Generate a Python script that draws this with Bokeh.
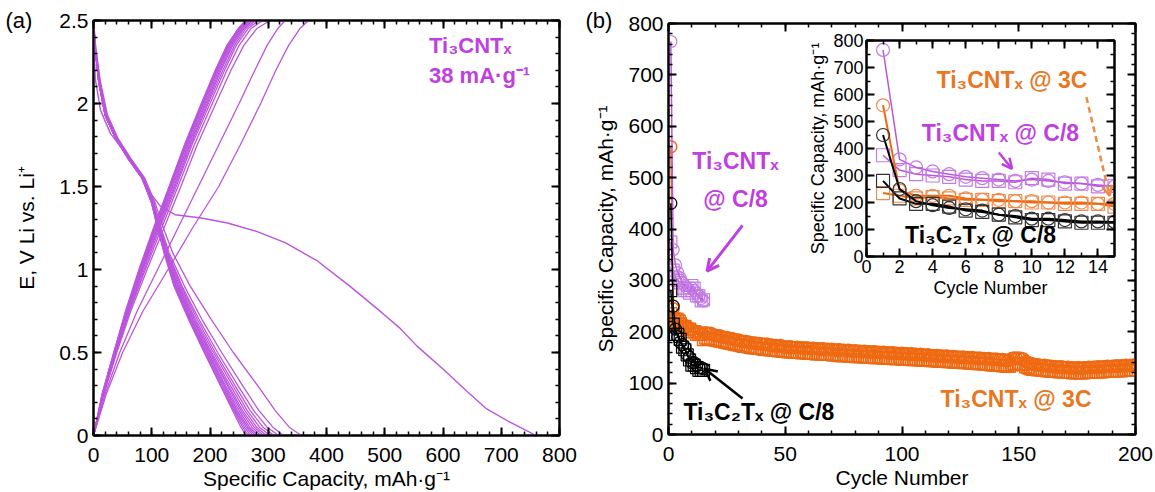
from bokeh.plotting import figure
from bokeh.models import (GridBox, LinearAxis, Range1d, Label, Arrow, OpenHead,
                          CustomJSTickFormatter, SingleIntervalTicker)
from bokeh.embed import file_html
from bokeh.resources import INLINE

FONT = "Liberation Sans"
PURPLE_LINE = "#BB55DD"
PURPLE_TEXT = "#BF3FE0"
PURPLE_MK = "#C27BE3"
ORANGE = "#EE6A12"
ORANGE_MK = "#F08A4E"
ORANGE_TEXT = "#E8771F"

# ---------------- panel (a) data: voltage profiles ----------------
dis1_cap = [0, 3, 12, 29, 55, 80, 100, 115, 140, 185, 230, 280, 330, 385, 440, 495, 525, 555, 600, 640, 675, 715, 760]
dis1_V = [2.45, 2.15, 1.96, 1.82, 1.70, 1.58, 1.45, 1.38, 1.33, 1.31, 1.28, 1.23, 1.16, 1.05, 0.90, 0.74, 0.65, 0.54, 0.40, 0.27, 0.16, 0.08, 0.00]

V_dis = [2.50, 2.33, 2.13, 1.93, 1.79, 1.67, 1.55, 1.40, 1.25, 1.10, 0.90, 0.70, 0.50, 0.30, 0.15, 0.05, 0.00]
dis_caps = [
    [0, 4, 12, 24, 42, 64, 88, 106, 120, 136, 166, 202, 240, 282, 312, 336, 357],
    [0, 4, 11, 23, 41, 63, 87, 104, 116, 130, 156, 186, 220, 256, 284, 308, 326],
    [0, 3, 10, 22, 40, 62, 86, 103, 115, 128, 152, 181, 213, 248, 275, 298, 318],
    [0, 3, 10, 22, 40, 61, 86, 103, 114, 127, 150, 178, 209, 243, 269, 291, 310],
    [0, 3, 10, 21, 39, 61, 85, 102, 113, 126, 148, 175, 206, 239, 264, 285, 303],
    [0, 3, 9, 21, 39, 60, 85, 102, 113, 125, 146, 173, 203, 235, 260, 280, 297],
    [0, 3, 9, 21, 39, 60, 85, 101, 112, 124, 145, 171, 201, 232, 256, 276, 292],
    [0, 3, 9, 20, 38, 60, 84, 101, 112, 124, 144, 170, 199, 230, 253, 272, 287],
    [0, 3, 9, 20, 38, 60, 84, 101, 111, 123, 143, 168, 197, 227, 250, 268, 282],
    [0, 3, 9, 20, 38, 59, 84, 100, 111, 123, 142, 167, 196, 225, 247, 265, 278],
    [0, 3, 9, 20, 38, 59, 84, 100, 111, 122, 141, 166, 194, 223, 245, 262, 274],
    [0, 3, 9, 20, 38, 59, 84, 100, 110, 122, 140, 165, 193, 221, 243, 259, 270],
    [0, 3, 9, 20, 38, 59, 83, 100, 110, 122, 139, 164, 191, 219, 241, 256, 266],
    [0, 3, 9, 20, 38, 59, 83, 100, 110, 121, 138, 163, 190, 218, 239, 253, 262],
]

V_ch = [0.00, 0.25, 0.50, 0.75, 1.00, 1.25, 1.50, 1.75, 2.00, 2.20, 2.35, 2.45, 2.50]
ch_caps = [
    [0, 22, 50, 85, 128, 170, 215, 252, 287, 313, 335, 354, 369],
    [0, 20, 45, 75, 110, 145, 180, 215, 250, 277, 298, 316, 329],
    [0, 18, 40, 64, 92, 121, 150, 178, 210, 236, 258, 280, 303],
    [0, 17, 39, 62, 89, 117, 145, 173, 204, 229, 250, 270, 290],
    [0, 17, 38, 61, 87, 114, 142, 169, 200, 225, 245, 265, 283],
    [0, 17, 38, 60, 85, 112, 140, 167, 197, 222, 242, 261, 278],
    [0, 16, 37, 59, 84, 110, 138, 165, 195, 219, 239, 258, 274],
    [0, 16, 37, 58, 83, 109, 136, 163, 193, 217, 237, 256, 271],
    [0, 16, 36, 58, 82, 108, 135, 162, 191, 215, 235, 254, 268],
    [0, 16, 36, 57, 81, 107, 133, 160, 189, 213, 233, 252, 266],
    [0, 16, 36, 57, 81, 106, 132, 159, 188, 212, 232, 251, 265],
    [0, 15, 35, 56, 80, 105, 131, 158, 187, 211, 231, 250, 263],
    [0, 15, 35, 56, 79, 104, 130, 157, 186, 210, 230, 249, 262],
    [0, 15, 35, 55, 78, 103, 130, 156, 185, 209, 229, 248, 261],
]

# ---------------- panel (b) data: cycling ----------------
cyc_c8 = list(range(1, 16))
ti3cn_c8_dis = [765, 360, 330, 315, 305, 295, 290, 285, 280, 285, 280, 275, 270, 265, 260]
ti3cn_c8_ch = [375, 320, 305, 300, 295, 285, 280, 280, 275, 290, 285, 270, 270, 260, 262]
ti3c2_c8_dis = [450, 250, 205, 190, 180, 175, 170, 155, 150, 140, 140, 135, 130, 130, 128]
ti3c2_c8_ch = [280, 215, 195, 195, 185, 170, 165, 155, 145, 135, 135, 130, 125, 125, 125]

cyc_3c = list(range(1, 201))
ti3cn_3c_dis = [560, 245, 225, 225, 225, 215, 210, 210, 205, 205, 200, 200, 200, 195, 195,
                198, 196, 197, 194, 193, 192, 192, 190, 189, 189,
                187, 187, 185, 184, 184, 182, 181, 181, 180, 179,
                178, 178, 177, 177, 176, 175, 176, 174, 174, 173,
                173, 172, 173, 171, 171, 170, 171, 170, 169, 170,
                169, 169, 168, 169, 168, 167, 168, 167, 167, 166,
                167, 166, 166, 165, 166, 165, 164, 165, 164, 164,
                163, 164, 163, 162, 163, 162, 162, 161, 162, 161,
                161, 160, 161, 160, 160, 159, 160, 159, 159, 158,
                159, 158, 158, 157, 158, 157, 157, 156, 157, 156,
                156, 155, 156, 155, 154, 155, 154, 154, 153, 154,
                153, 153, 152, 153, 152, 151, 152, 151, 151, 150,
                151, 150, 150, 149, 150, 149, 148, 149, 148, 148,
                147, 148, 147, 146, 147, 146, 145, 146, 145, 144,
                145, 148, 149, 148, 149, 148, 147, 142, 140, 138,
                137, 136, 136, 135, 134, 135, 134, 133, 133, 132,
                132, 131, 132, 131, 130, 131, 130, 130, 129, 130,
                130, 129, 130, 130, 131, 130, 131, 131, 132, 131,
                132, 132, 133, 132, 133, 133, 134, 133, 134, 134,
                135, 134, 135, 135, 136]
ti3cn_3c_ch = [235, 225, 215, 220, 215, 210, 210, 205, 205, 200, 200, 195, 195, 195, 185,
               188, 187, 186, 185, 184, 183, 182, 181, 180, 179,
               178, 177, 176, 175, 174, 173, 172, 172, 171, 170,
               169, 169, 168, 168, 167, 166, 166, 165, 165, 164,
               164, 163, 163, 162, 162, 161, 161, 161, 160, 160,
               160, 159, 159, 159, 158, 158, 158, 157, 157, 157,
               157, 156, 156, 156, 155, 155, 155, 154, 154, 154,
               154, 153, 153, 153, 152, 152, 152, 152, 151, 151,
               151, 151, 150, 150, 150, 150, 149, 149, 149, 149,
               148, 148, 148, 148, 147, 147, 147, 147, 146, 146,
               146, 146, 145, 145, 145, 145, 144, 144, 144, 143,
               143, 143, 143, 142, 142, 142, 141, 141, 141, 141,
               140, 140, 140, 139, 139, 139, 138, 138, 138, 137,
               137, 137, 136, 136, 135, 135, 135, 134, 134, 133,
               133, 136, 138, 137, 138, 137, 136, 132, 130, 128,
               127, 127, 126, 126, 125, 125, 124, 124, 123, 123,
               123, 122, 122, 122, 121, 121, 121, 120, 120, 120,
               120, 120, 120, 121, 121, 121, 121, 122, 122, 122,
               122, 123, 123, 123, 123, 124, 124, 124, 124, 125,
               125, 125, 126, 126, 126]

EMPTY = "return ''"


def style_axis(ax, size):
    ax.axis_line_width = 2
    ax.axis_line_color = "black"
    ax.major_tick_line_width = 2
    ax.minor_tick_line_width = 1.5
    ax.major_tick_in = 8
    ax.major_tick_out = 0
    ax.minor_tick_in = 4
    ax.minor_tick_out = 0
    ax.major_label_text_font = FONT
    ax.major_label_text_font_size = f"{size}px"
    ax.major_label_text_color = "black"
    ax.axis_label_text_font = FONT
    ax.axis_label_text_font_style = "normal"
    ax.axis_label_text_font_size = f"{size}px"
    ax.axis_label_text_color = "black"
    ax.major_label_standoff = 3
    ax.axis_label_standoff = 2


def make_fig(w, h, xr, yr, xt, yt, xlab, ylab, size, borders, stand, yfmt=None):
    p = figure(width=w, height=h, x_range=Range1d(*xr), y_range=Range1d(*yr),
               output_backend="svg", toolbar_location=None,
               min_border_left=borders[0], min_border_right=borders[1],
               min_border_top=borders[2], min_border_bottom=borders[3])
    p.frame_align = False
    p.xgrid.visible = False
    p.ygrid.visible = False
    p.outline_line_color = "black"
    p.outline_line_width = 2
    bottom = p.below[0]
    left = p.left[0]
    bottom.ticker = SingleIntervalTicker(interval=xt[0], num_minor_ticks=xt[1])
    left.ticker = SingleIntervalTicker(interval=yt[0], num_minor_ticks=yt[1])
    bottom.axis_label = xlab
    left.axis_label = ylab
    if yfmt is not None:
        left.formatter = CustomJSTickFormatter(code=yfmt)
    top = LinearAxis(ticker=SingleIntervalTicker(interval=xt[0], num_minor_ticks=xt[1]),
                     formatter=CustomJSTickFormatter(code=EMPTY))
    right = LinearAxis(ticker=SingleIntervalTicker(interval=yt[0], num_minor_ticks=yt[1]),
                       formatter=CustomJSTickFormatter(code=EMPTY))
    p.add_layout(top, "above")
    p.add_layout(right, "right")
    for ax in [bottom, left, top, right]:
        style_axis(ax, size)
    top.major_label_standoff = 0
    right.major_label_standoff = 0
    bottom.major_label_standoff = stand[0]
    bottom.axis_label_standoff = stand[1]
    left.major_label_standoff = stand[2]
    left.axis_label_standoff = stand[3]
    return p


def label(p, x, y, text, color, size, align="left", bold=True):
    p.add_layout(Label(x=x, y=y, text=text, text_color=color, text_font=FONT,
                       text_font_size=f"{size}px", text_font_style="bold" if bold else "normal",
                       text_align=align, text_baseline="middle"))


# ---------------- panel (a) ----------------
pa = make_fig(580, 492, (0, 800), (0, 2.5), (100, 5), (0.5, 5),
              "Specific Capacity, mAh·g⁻¹", "E, V Li vs. Li⁺", 21, (93, 21, 20, 57),
              (12, 2, 5, 18), yfmt="return String(Math.round(tick*10)/10)")
pa.line(dis1_cap, dis1_V, line_color=PURPLE_LINE, line_width=1.4)
pa.multi_line(xs=dis_caps, ys=[V_dis] * len(dis_caps), line_color=PURPLE_LINE, line_width=1.3)
pa.multi_line(xs=ch_caps, ys=[V_ch] * len(ch_caps), line_color=PURPLE_LINE, line_width=1.3)
label(pa, 576, 2.35, "Ti₃CNTₓ", PURPLE_TEXT, 22)
label(pa, 576, 2.17, "38 mA·g⁻¹", PURPLE_TEXT, 22)

# ---------------- panel (b) ----------------
pb = make_fig(575, 492, (0, 200), (0, 800), (50, 5), (100, 5),
              "Cycle Number", "Specific Capacity, mAh·g⁻¹", 21, (88, 20, 23, 58),
              (12, 2, 5, 8))


def draw_series(p, x, y, color, mk_color, marker, size, lw, mlw=1.2):
    p.line(x, y, line_color=color, line_width=lw)
    p.scatter(x, y, marker=marker, size=size, fill_color=None, line_color=mk_color, line_width=mlw)


draw_series(pb, cyc_3c, ti3cn_3c_ch, ORANGE, ORANGE, "square", 12, 1.5, 1.5)
draw_series(pb, cyc_3c, ti3cn_3c_dis, ORANGE, ORANGE, "circle", 12, 1.5, 1.5)
draw_series(pb, cyc_c8, ti3cn_c8_ch, PURPLE_LINE, PURPLE_MK, "square", 12, 1.5)
draw_series(pb, cyc_c8, ti3cn_c8_dis, PURPLE_LINE, PURPLE_MK, "circle", 12, 1.5)
draw_series(pb, cyc_c8, ti3c2_c8_ch, "black", "black", "square", 12, 1.5)
draw_series(pb, cyc_c8, ti3c2_c8_dis, "black", "black", "circle", 12, 1.5)

label(pb, 28.7, 533, "Ti₃CNTₓ", PURPLE_TEXT, 23, align="center")
label(pb, 28.7, 459, "@ C/8", PURPLE_TEXT, 23, align="center")
label(pb, 6.4, 43, "Ti₃C₂Tₓ @ C/8", "black", 23)
label(pb, 116.5, 70, "Ti₃CNTₓ @ 3C", ORANGE_TEXT, 23)
pb.add_layout(Arrow(x_start=31.7, y_start=407, x_end=16.5, y_end=318,
                    line_color=PURPLE_TEXT, line_width=3,
                    end=OpenHead(size=12, line_color=PURPLE_TEXT, line_width=3)))
pb.add_layout(Arrow(x_start=31.7, y_start=70, x_end=15.5, y_end=128,
                    line_color="black", line_width=2.5,
                    end=OpenHead(size=12, line_color="black", line_width=2.5)))

# ---------------- inset ----------------
pi = make_fig(330, 275, (0, 15), (0, 800), (2, 2), (100, 2),
              "Cycle Number", "Specific Capacity, mAh·g⁻¹", 18, (71, 11, 15, 44),
              (3, 2, 3, 2))
pi.background_fill_color = "white"
pi.border_fill_color = None
draw_series(pi, cyc_c8, ti3cn_c8_ch, PURPLE_LINE, PURPLE_MK, "square", 13, 1.5)
draw_series(pi, cyc_c8, ti3cn_c8_dis, PURPLE_LINE, PURPLE_MK, "circle", 13, 1.5)
draw_series(pi, cyc_3c, ti3cn_3c_ch, ORANGE, ORANGE_MK, "square", 13, 2)
draw_series(pi, cyc_3c, ti3cn_3c_dis, ORANGE, ORANGE_MK, "circle", 13, 2)
draw_series(pi, cyc_c8, ti3c2_c8_ch, "black", "#333333", "square", 13, 2)
draw_series(pi, cyc_c8, ti3c2_c8_dis, "black", "#333333", "circle", 13, 2)
label(pi, 8.8, 654, "Ti₃CNTₓ @ 3C", ORANGE_TEXT, 23, align="center")
label(pi, 8.1, 457, "Ti₃CNTₓ @ C/8", PURPLE_TEXT, 23, align="center")
label(pi, 6.9, 78, "Ti₃C₂Tₓ @ C/8", "black", 23, align="center")
pi.add_layout(Arrow(x_start=8.0, y_start=385, x_end=8.8, y_end=325,
                    line_color=PURPLE_TEXT, line_width=2.5,
                    end=OpenHead(size=10, line_color=PURPLE_TEXT, line_width=2.5)))
pi.add_layout(Arrow(x_start=13.3, y_start=590, x_end=14.7, y_end=225,
                    line_color="#F08A3E", line_width=2.5, line_dash="6 4",
                    end=OpenHead(size=10, line_color="#F08A3E", line_width=2.5)))

# ---------------- transparent overlay for panel tags ----------------
po = figure(width=1155, height=492, x_range=Range1d(0, 1155), y_range=Range1d(0, 492),
            output_backend="svg", toolbar_location=None, min_border=0,
            x_axis_location=None, y_axis_location=None)
po.frame_align = False
po.xgrid.visible = False
po.ygrid.visible = False
po.outline_line_color = None
po.background_fill_color = None
po.border_fill_color = None
label(po, 5, 472, "(a)", "black", 22, bold=False)
label(po, 585, 472, "(b)", "black", 22, bold=False)

grid = GridBox(children=[(pa, 0, 0, 3, 1), (pb, 0, 1, 3, 3), (pi, 1, 2, 1, 1), (po, 0, 0, 3, 4)],
               rows=["25px", "275px", "192px"], cols=["580px", "215px", "330px", "30px"],
               spacing=0)

open("out.html", "w").write(file_html(grid, INLINE))
